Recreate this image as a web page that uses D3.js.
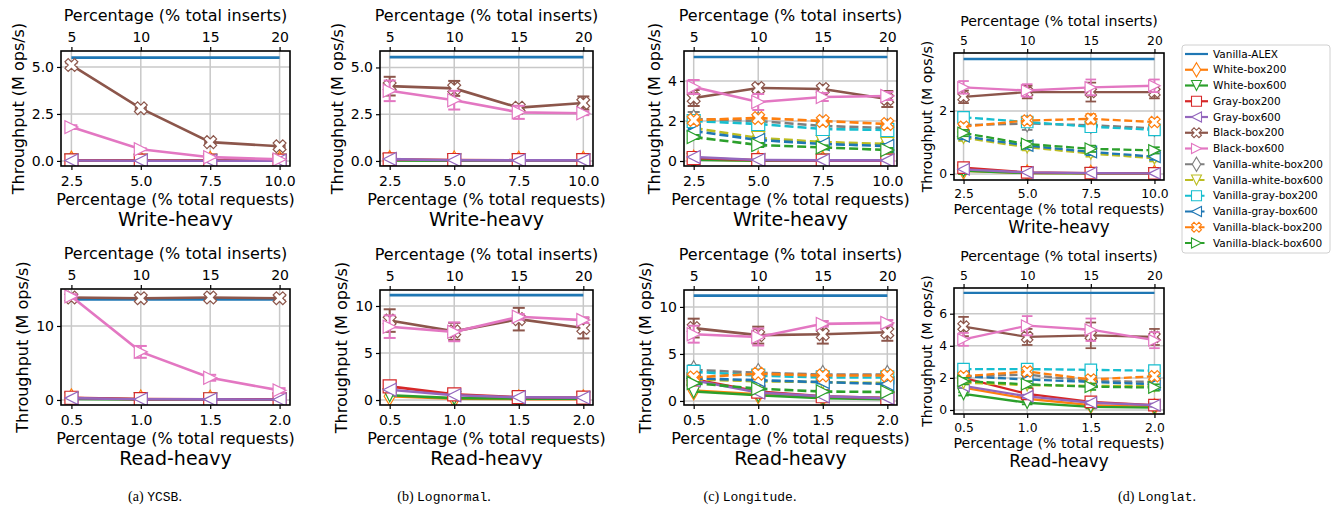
<!DOCTYPE html>
<html>
<head>
<meta charset="utf-8">
<script src="https://cdn.jsdelivr.net/npm/d3@7"></script>
<style>
  body { margin: 0; background: #fff; }
  text { font-family: "DejaVu Sans", sans-serif; fill: #000; }
</style>
</head>
<body>
<script>
// series, in the order they are plotted and listed in the legend
const seriesNames = ["Vanilla-ALEX", "White-box200", "White-box600", "Gray-box200", "Gray-box600",
  "Black-box200", "Black-box600", "Vanilla-white-box200", "Vanilla-white-box600",
  "Vanilla-gray-box200", "Vanilla-gray-box600", "Vanilla-black-box200", "Vanilla-black-box600"];
const seriesColors = ["#1f77b4", "#ff7f0e", "#2ca02c", "#d62728", "#9467bd", "#8c564b", "#e377c2",
  "#7f7f7f", "#bcbd22", "#17becf", "#1f77b4", "#ff7f0e", "#2ca02c"];
const seriesMarkers = [null, "d", "v", "s", "<", "X", ">", "d", "v", "s", "<", "X", ">"];
const seriesDashed = [false, false, false, false, false, false, false, true, true, true, true, true, true];

// x values
const xWrite = [2.5, 5.0, 7.5, 10.0];   // % total requests, write-heavy
const xRead = [0.5, 1.0, 1.5, 2.0];     // % total requests, read-heavy
const insertTicks = [5, 10, 15, 20];    // % total inserts (top axis)

// throughput (M ops/s), one row per series, null = not run
const ycsbWrite = [
  [5.5, 5.5, 5.5, 5.5], [0.03, 0.02, 0.02, 0.02], [0.02, 0.01, 0.01, 0.01], [0.03, 0.02, 0.02, 0.02],
  [0.02, 0.01, 0.01, 0.01], [5.1, 2.8, 1.0, 0.78], [1.8, 0.62, 0.2, 0.08],
  null, null, null, null, null, null];
const ycsbWriteErr = [
  [0, 0, 0, 0], [0, 0, 0, 0], [0, 0, 0, 0], [0, 0, 0, 0],
  [0, 0, 0, 0], [0.1, 0.05, 0.05, 0.05], [0.1, 0.05, 0.03, 0.02],
  null, null, null, null, null, null];
const ycsbRead = [
  [13.6, 13.6, 13.6, 13.6], [0.25, 0.1, 0.08, 0.06], [0.15, 0.08, 0.06, 0.05], [0.3, 0.12, 0.1, 0.08],
  [0.25, 0.1, 0.08, 0.06], [13.85, 13.75, 13.85, 13.75], [14.0, 6.5, 3.0, 1.3],
  null, null, null, null, null, null];
const ycsbReadErr = [
  [0, 0, 0, 0], [0, 0, 0, 0], [0, 0, 0, 0], [0, 0, 0, 0],
  [0, 0, 0, 0], [0.3, 0.3, 0.3, 0.3], [0.3, 0.8, 0.4, 0.3],
  null, null, null, null, null, null];

const lognormalWrite = [
  [5.55, 5.55, 5.55, 5.55], [0.06, 0.04, 0.03, 0.03], [0.03, 0.02, 0.02, 0.02], [0.08, 0.05, 0.04, 0.04],
  [0.1, 0.04, 0.03, 0.03], [4.0, 3.88, 2.85, 3.1], [3.75, 3.25, 2.6, 2.55],
  null, null, null, null, null, null];
const lognormalWriteErr = [
  [0, 0, 0, 0], [0, 0, 0, 0], [0, 0, 0, 0], [0, 0, 0, 0],
  [0, 0, 0, 0], [0.5, 0.4, 0.1, 0.35], [0.55, 0.5, 0.35, 0.1],
  null, null, null, null, null, null];
const lognormalRead = [
  [11.15, 11.15, 11.15, 11.15], [0.4, 0.15, 0.1, 0.1], [0.5, 0.2, 0.15, 0.15], [1.45, 0.6, 0.3, 0.25],
  [1.1, 0.5, 0.3, 0.25], [8.45, 7.3, 8.6, 7.65], [7.8, 7.25, 8.85, 8.5],
  null, null, null, null, null, null];
const lognormalReadErr = [
  [0, 0, 0, 0], [0, 0, 0, 0], [0, 0, 0, 0], [0, 0, 0, 0],
  [0, 0, 0, 0], [1.2, 0.9, 1.2, 1.1], [1.2, 1.0, 0.3, 0.3],
  null, null, null, null, null, null];

const longitudeWrite = [
  [5.2, 5.2, 5.2, 5.2], [0.08, 0.03, 0.02, 0.02], [0.06, 0.02, 0.02, 0.02], [0.15, 0.04, 0.02, 0.02],
  [0.2, 0.05, 0.03, 0.03], [3.15, 3.65, 3.6, 3.1], [3.7, 2.95, 3.2, 3.25],
  [2.1, 2.0, 1.75, 1.65], [1.65, 1.15, 0.95, 0.85], [2.0, 1.85, 1.6, 1.55],
  [1.5, 1.05, 0.85, 0.75], [2.05, 2.15, 2.0, 1.85], [1.2, 0.8, 0.68, 0.55]];
const longitudeWriteErr = [
  [0, 0, 0, 0], [0, 0, 0, 0], [0, 0, 0, 0], [0, 0, 0, 0],
  [0, 0, 0, 0], [0.4, 0.2, 0.2, 0.4], [0.35, 0.4, 0.2, 0.2],
  [0.35, 0.1, 0.1, 0.1], [0.1, 0.1, 0.1, 0.1], [0.2, 0.25, 0.2, 0.2],
  [0.1, 0.1, 0.1, 0.1], [0.1, 0.1, 0.1, 0.1], [0.1, 0.1, 0.1, 0.1]];
const longitudeRead = [
  [11.2, 11.2, 11.2, 11.2], [1.1, 0.7, 0.4, 0.3], [1.0, 0.6, 0.3, 0.2], [2.3, 1.0, 0.5, 0.3],
  [2.2, 0.9, 0.5, 0.3], [7.75, 7.0, 7.1, 7.3], [7.1, 6.8, 8.2, 8.3],
  [3.3, 3.0, 2.8, 2.8], [2.3, 2.1, 2.0, 1.9], [3.1, 2.7, 2.5, 2.5],
  [2.4, 2.2, 2.0, 1.8], [2.5, 2.9, 2.7, 2.7], [1.9, 1.3, 1.0, 0.95]];
const longitudeReadErr = [
  [0, 0, 0, 0], [0, 0, 0, 0], [0, 0, 0, 0], [0, 0, 0, 0],
  [0, 0, 0, 0], [1.0, 0.9, 1.0, 0.9], [0.9, 0.9, 0.3, 0.3],
  [0.5, 0.3, 0.2, 0.2], [0.1, 0.1, 0.1, 0.1], [0.3, 0.3, 0.3, 0.3],
  [0.1, 0.1, 0.1, 0.1], [0.2, 0.2, 0.2, 0.2], [0.1, 0.1, 0.1, 0.1]];

const longlatWrite = [
  [3.65, 3.65, 3.65, 3.65], [0.1, 0.03, 0.02, 0.02], [0.1, 0.03, 0.02, 0.02], [0.2, 0.05, 0.03, 0.02],
  [0.15, 0.05, 0.03, 0.02], [2.45, 2.6, 2.6, 2.6], [2.75, 2.65, 2.75, 2.8],
  [1.55, 1.6, 1.55, 1.45], [1.15, 0.85, 0.65, 0.5], [1.8, 1.65, 1.5, 1.4],
  [1.2, 0.9, 0.7, 0.55], [1.5, 1.7, 1.75, 1.65], [1.3, 0.95, 0.8, 0.75]];
const longlatWriteErr = [
  [0, 0, 0, 0], [0.1, 0.1, 0.1, 0.1], [0.1, 0, 0, 0], [0, 0, 0, 0],
  [0, 0, 0, 0], [0.2, 0.2, 0.3, 0.2], [0.2, 0.2, 0.25, 0.2],
  [0.1, 0.2, 0.2, 0.1], [0.1, 0.1, 0.1, 0.1], [0.15, 0.1, 0.1, 0.1],
  [0.1, 0.1, 0.1, 0.1], [0.1, 0.1, 0.15, 0.1], [0.1, 0.1, 0.1, 0.1]];
const longlatRead = [
  [7.3, 7.3, 7.3, 7.3], [1.4, 0.7, 0.3, 0.2], [1.0, 0.45, 0.2, 0.15], [2.0, 1.0, 0.5, 0.3],
  [1.5, 0.85, 0.45, 0.3], [5.2, 4.55, 4.65, 4.55], [4.4, 5.25, 5.0, 4.35],
  [2.1, 2.2, 1.8, 1.75], [1.7, 1.55, 1.5, 1.5], [2.55, 2.55, 2.5, 2.45],
  [2.1, 1.9, 1.75, 1.6], [2.1, 2.4, 1.9, 2.1], [1.8, 1.6, 1.45, 1.4]];
const longlatReadErr = [
  [0, 0, 0, 0], [0.1, 0.1, 0.1, 0.1], [0.1, 0.1, 0.1, 0.1], [0.1, 0.1, 0.1, 0.1],
  [0.1, 0.1, 0.1, 0.1], [0.6, 0.5, 0.8, 0.5], [0.4, 0.6, 0.7, 0.5],
  [0.2, 0.2, 0.2, 0.2], [0.1, 0.1, 0.1, 0.1], [0.3, 0.3, 0.3, 0.3],
  [0.2, 0.2, 0.2, 0.2], [0.2, 0.2, 0.2, 0.2], [0.2, 0.2, 0.2, 0.2]];

const captions = [
  { tag: "(a)", name: "YCSB", cx: 155 },
  { tag: "(b)", name: "Lognormal", cx: 444 },
  { tag: "(c)", name: "Longitude", cx: 750 },
  { tag: "(d)", name: "Longlat", cx: 1157 }
];

// layout of the 8 axes (pixels)
const panels = [
  { vals: ycsbWrite, errs: ycsbWriteErr, xs: xWrite, box: [61, 51, 290, 166], yDom: [-0.27, 5.85], yTicks: [0, 2.5, 5], yFmt: ".1f", title: "Write-heavy", s: 1 },
  { vals: lognormalWrite, errs: lognormalWriteErr, xs: xWrite, box: [380, 51, 593, 166], yDom: [-0.27, 5.88], yTicks: [0, 2.5, 5], yFmt: ".1f", title: "Write-heavy", s: 1 },
  { vals: longitudeWrite, errs: longitudeWriteErr, xs: xWrite, box: [684, 51, 897, 166], yDom: [-0.25, 5.5], yTicks: [0, 2, 4], yFmt: "d", title: "Write-heavy", s: 1 },
  { vals: longlatWrite, errs: longlatWriteErr, xs: xWrite, box: [954, 53, 1164, 180], yDom: [-0.19, 3.84], yTicks: [0, 2], yFmt: "d", title: "Write-heavy", s: 0.885 },
  { vals: ycsbRead, errs: ycsbReadErr, xs: xRead, box: [61, 289, 290, 405], yDom: [-0.68, 15.0], yTicks: [0, 10], yFmt: "d", title: "Read-heavy", s: 1 },
  { vals: lognormalRead, errs: lognormalReadErr, xs: xRead, box: [380, 290, 593, 405], yDom: [-0.53, 11.7], yTicks: [0, 5, 10], yFmt: "d", title: "Read-heavy", s: 1 },
  { vals: longitudeRead, errs: longitudeReadErr, xs: xRead, box: [684, 290, 897, 405], yDom: [-0.43, 11.8], yTicks: [0, 5, 10], yFmt: "d", title: "Read-heavy", s: 1 },
  { vals: longlatRead, errs: longlatReadErr, xs: xRead, box: [954, 288, 1164, 414], yDom: [-0.25, 7.6], yTicks: [0, 2, 4, 6], yFmt: "d", title: "Read-heavy", s: 0.885 }
];

// matplotlib-like marker outlines centred on 0,0
function markerPath(type, ms) {
  const h = ms / 2;
  if (type === "d") {
    const r = ms * 0.707, w = r * 0.6;
    return `M0,${-r}L${w},0L0,${r}L${-w},0Z`;
  }
  if (type === "v") return `M0,${h}L${-h},${-h}L${h},${-h}Z`;
  if (type === "<") return `M${-h},0L${h},${-h}L${h},${h}Z`;
  if (type === ">") return `M${h},0L${-h},${-h}L${-h},${h}Z`;
  if (type === "s") return `M${-h},${-h}H${h}V${h}H${-h}Z`;
  if (type === "X") {
    const pts = [[-1, -3], [1, -3], [1, -1], [3, -1], [3, 1], [1, 1], [1, 3], [-1, 3], [-1, 1], [-3, 1], [-3, -1], [-1, -1]];
    const k = ms / 6 * 1.05;
    return "M" + pts.map(([a, b]) => [((a - b) / Math.SQRT2 * k).toFixed(2), ((a + b) / Math.SQRT2 * k).toFixed(2)].join(",")).join("L") + "Z";
  }
  return "";
}

const svg = d3.select("body").append("svg")
  .attr("width", 1331)
  .attr("height", 512);

panels.forEach((p, pi) => {
  const [L, T, R, B] = p.box;
  const s = p.s;
  const x = d3.scaleLinear().domain(p.xs === xWrite ? [2.125, 10.375] : [0.425, 2.075]).range([L, R]);
  const xTop = d3.scaleLinear().domain([4.25, 20.75]).range([L, R]);
  const y = d3.scaleLinear().domain(p.yDom).range([B, T]);
  const g = svg.append("g");

  g.append("clipPath").attr("id", "clip" + pi)
    .append("rect").attr("x", L).attr("y", T).attr("width", R - L).attr("height", B - T);

  // grid
  g.append("g").selectAll("line").data(p.xs).join("line")
    .attr("x1", d => x(d)).attr("x2", d => x(d)).attr("y1", T).attr("y2", B)
    .attr("stroke", "#c8c8c8").attr("stroke-width", 1.5);
  g.append("g").selectAll("line").data(p.yTicks).join("line")
    .attr("x1", L).attr("x2", R).attr("y1", d => y(d)).attr("y2", d => y(d))
    .attr("stroke", "#c8c8c8").attr("stroke-width", 1.5);

  // series
  const plot = g.append("g").attr("clip-path", `url(#clip${pi})`);
  const line = d3.line().x((d, i) => x(p.xs[i])).y(d => y(d));
  p.vals.forEach((vals, si) => {
    if (!vals) return;
    const col = seriesColors[si];
    const errs = p.errs[si];
    const sg = plot.append("g");
    const eb = vals.map((v, i) => ({ x: x(p.xs[i]), lo: y(v - errs[i]), hi: y(v + errs[i]), e: errs[i] })).filter(d => d.e > 0);
    sg.selectAll(".eb").data(eb).join("line")
      .attr("x1", d => d.x).attr("x2", d => d.x).attr("y1", d => d.lo).attr("y2", d => d.hi)
      .attr("stroke", col).attr("stroke-width", 2 * s);
    const caps = eb.flatMap(d => [{ x: d.x, y: d.lo }, { x: d.x, y: d.hi }]);
    sg.selectAll(".cap").data(caps).join("line")
      .attr("x1", d => d.x - 6 * s).attr("x2", d => d.x + 6 * s).attr("y1", d => d.y).attr("y2", d => d.y)
      .attr("stroke", col).attr("stroke-width", 2 * s);
    sg.append("path").datum(vals)
      .attr("d", line)
      .attr("fill", "none")
      .attr("stroke", col)
      .attr("stroke-width", 2.6 * s)
      .attr("stroke-dasharray", seriesDashed[si] ? `${9 * s},${4 * s}` : null);
    if (seriesMarkers[si]) {
      sg.selectAll(".mk").data(vals).join("path")
        .attr("d", markerPath(seriesMarkers[si], 13 * s))
        .attr("transform", (d, i) => `translate(${x(p.xs[i])},${y(d)})`)
        .attr("fill", "#fff")
        .attr("stroke", col)
        .attr("stroke-width", 1.2);
    }
  });

  // axes
  const tickFs = 14 * s;
  const ax = d3.axisBottom(x).tickValues(p.xs).tickFormat(d3.format(".1f")).tickSizeOuter(0).tickSize(4).tickPadding(6 * s);
  const axB = g.append("g").attr("transform", `translate(0,${B})`).call(ax);
  const axT = g.append("g").attr("transform", `translate(0,${T})`)
    .call(d3.axisTop(xTop).tickValues(insertTicks).tickFormat(d3.format("d")).tickSizeOuter(0).tickSize(4).tickPadding(5 * s));
  const axL = g.append("g").attr("transform", `translate(${L},0)`)
    .call(d3.axisLeft(y).tickValues(p.yTicks).tickFormat(d3.format(p.yFmt)).tickSizeOuter(0).tickSize(4).tickPadding(3));
  [axB, axT, axL].forEach(a => {
    a.select(".domain").remove();
    a.selectAll(".tick line").attr("stroke", "#000").attr("stroke-width", 1.2);
    a.selectAll("text").attr("font-size", tickFs).attr("font-family", "DejaVu Sans");
  });

  // frame
  g.append("rect").attr("x", L).attr("y", T).attr("width", R - L).attr("height", B - T)
    .attr("fill", "none").attr("stroke", "#000").attr("stroke-width", 1.6);

  // labels
  let maxW = 0;
  axL.selectAll("text").each(function () { maxW = Math.max(maxW, this.getComputedTextLength()); });
  const cx = (L + R) / 2;
  const labFs = 16 * s;
  const yb = L - 7 - maxW - 5 * s - 0.2 * labFs;
  g.append("text")
    .attr("transform", `translate(${yb},${(T + B) / 2}) rotate(-90)`)
    .attr("text-anchor", "middle")
    .attr("font-size", labFs)
    .text("Throughput (M ops/s)");
  g.append("text").attr("x", cx).attr("y", T - 36 * s + 0.35 * labFs)
    .attr("text-anchor", "middle").attr("font-size", labFs)
    .text("Percentage (% total inserts)");
  g.append("text").attr("x", cx).attr("y", B + 33 * s + 0.35 * labFs)
    .attr("text-anchor", "middle").attr("font-size", labFs)
    .text("Percentage (% total requests)");
  g.append("text").attr("x", cx).attr("y", B + 53 * s + 0.35 * 19 * s)
    .attr("text-anchor", "middle").attr("font-size", 19 * s)
    .text(p.title);
});

// legend
const lg = svg.append("g").attr("transform", "translate(1182,45)");
lg.append("rect").attr("width", 148).attr("height", 208).attr("rx", 3)
  .attr("fill", "#fff").attr("stroke", "#d0d0d0").attr("stroke-width", 1);
seriesNames.forEach((name, i) => {
  const yy = 9 + i * 15.75;
  const row = lg.append("g").attr("transform", `translate(0,${yy})`);
  row.append("line").attr("x1", 3).attr("x2", 26).attr("y1", 0).attr("y2", 0)
    .attr("stroke", seriesColors[i]).attr("stroke-width", 2.2)
    .attr("stroke-dasharray", seriesDashed[i] ? "8,3.5" : null);
  if (seriesMarkers[i]) {
    row.append("path").attr("d", markerPath(seriesMarkers[i], 10))
      .attr("transform", "translate(14.5,0)")
      .attr("fill", "#fff").attr("stroke", seriesColors[i]).attr("stroke-width", 1.1);
  }
  row.append("text").attr("x", 31).attr("y", 0).attr("dy", "0.35em")
    .attr("font-size", 10.5).text(name);
});

// sub-figure captions
captions.forEach(c => {
  const t = svg.append("text").attr("x", c.cx).attr("y", 501).attr("text-anchor", "middle").attr("font-size", 14);
  t.append("tspan").attr("font-family", "Liberation Serif").text(c.tag + " ");
  t.append("tspan").attr("font-family", "Liberation Mono").attr("font-size", 13).text(c.name);
  t.append("tspan").attr("font-family", "Liberation Serif").text(".");
});
</script>
</body>
</html>
